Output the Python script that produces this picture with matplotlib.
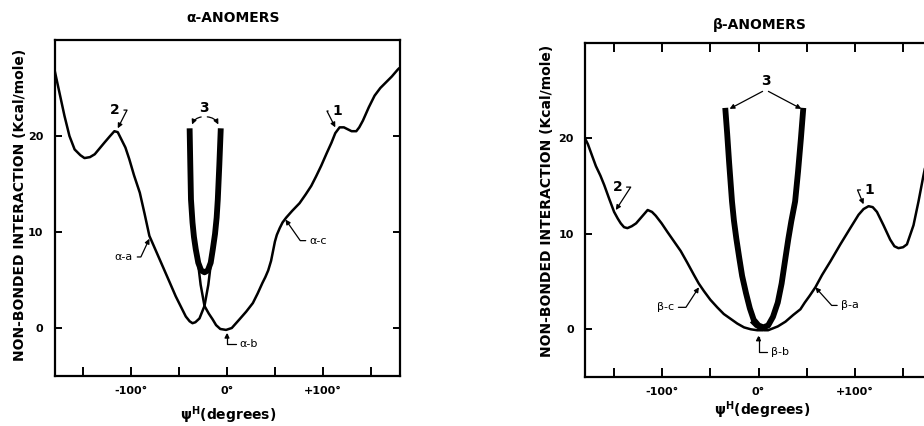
import numpy as np
import matplotlib.pyplot as plt

plt.rcParams['font.family'] = ['DejaVu Sans']
plt.rcParams['font.weight'] = 'bold'

# ---- alpha anomers (left panel) ----
aa_x = [-180, -174.8, -169.6, -164.4, -159, -153, -148.7, -143, -138, -133, -128, -122, -117.5,
        -114, -111, -106, -102, -97, -91, -86, -81, -74, -67, -60, -53.5, -48, -43, -39, -36,
        -33, -28.7, -23.5, -19.5, -16.5]
aa_y = [26.9, 24.5, 22.1, 20.0, 18.6, 18.0, 17.7, 17.8, 18.1, 18.7, 19.3, 20.0, 20.5,
        20.4, 19.8, 18.8, 17.6, 15.9, 14.1, 11.9, 9.6, 8.0, 6.4, 4.8, 3.3, 2.2, 1.2, 0.7, 0.5,
        0.6, 1.0, 2.3, 4.5, 7.0]

ab_x = [-30.5, -27.5, -23.5, -19, -15, -11.4, -7, -1, 5, 13, 20, 27, 32, 37, 40, 43, 46, 48, 50,
        52, 55, 58, 61.8, 68, 75.7, 82, 87.9, 93, 98.3, 104, 109, 113, 117.5, 122, 126, 130,
        134.9, 138, 141.8, 148, 154, 160, 166, 172, 178, 180]
ab_y = [7.0, 4.5, 2.3, 1.5, 0.9, 0.3, -0.1, -0.2, 0.0, 0.9, 1.7, 2.6, 3.6, 4.7, 5.3, 6.0, 7.0, 8.0, 9.0,
        9.7, 10.4, 11.0, 11.5, 12.2, 13.0, 13.9, 14.8, 15.8, 16.9, 18.2, 19.3, 20.3, 20.9, 20.9, 20.7, 20.5,
        20.5, 20.9, 21.6, 23.0, 24.2, 25.0, 25.6, 26.2, 26.9, 27.1]

a3_x = [-39, -38.3, -37.6, -36, -34.5, -32.6, -30, -27, -23.5, -20, -17, -14.8, -12.5, -10.8, -9.6, -8, -6.5]
a3_y = [20.8, 17, 13.4, 11, 9.5, 8.2, 6.8, 6.0, 5.8, 6.0, 6.8, 8.2, 9.8, 11.5, 13.4, 17, 20.8]

# ---- beta anomers (right panel) ----
bc_x = [-180, -177, -172.7, -168.7, -164, -160, -155, -149.8, -146, -142.9, -139.5, -136, -131.5,
        -127, -121, -115, -110.5, -106.6, -100.5, -94.5, -87.6, -80.7, -74, -67, -62, -56.6, -50,
        -42.8, -36, -29, -22, -15, -8, -1.3, 4, 9]
bc_y = [20.0, 19.4, 18.2, 17.1, 16.1, 15.1, 13.7, 12.3, 11.6, 11.1, 10.7, 10.6, 10.8,
        11.1, 11.8, 12.5, 12.3, 11.9, 11.1, 10.2, 9.2, 8.2, 7.0, 5.7, 4.8, 4.0, 3.1,
        2.3, 1.6, 1.1, 0.6, 0.2, 0.0, -0.1, -0.1, 0.1]

ba_x = [-8, -3, 2, 6, 10, 15, 20, 28, 36, 43.5, 48, 53, 59, 66, 74.5, 84.9, 95.2, 103.8, 109,
        114.2, 118.5, 122.9, 129.7, 136.6, 141, 145.2, 150, 154, 160.8, 166, 171.1, 176, 180]
ba_y = [0.8, 0.3, 0.0, -0.1, -0.1, 0.1, 0.3, 0.8, 1.5, 2.1, 2.8, 3.5, 4.4, 5.7, 7.1, 8.9, 10.6, 12.0, 12.6,
        12.9, 12.8, 12.3, 10.9, 9.4, 8.7, 8.5, 8.6, 8.9, 10.9, 13.4, 16.1, 18.5, 20.2]

b3_x = [-34.5, -32.5, -30.5, -27.5, -25.5, -23, -20, -17, -13, -9, -5, 0, 5, 10, 15, 20, 24, 28,
        31, 34, 38, 41, 44, 46.5]
b3_y = [23.2, 20.5, 17.5, 13.4, 11.4, 9.5, 7.5, 5.6, 3.8, 2.2, 1.0, 0.4, 0.2, 0.4, 1.3, 2.8, 4.8, 7.5,
        9.5, 11.3, 13.4, 16.5, 20, 23.2]

xticks = [-150, -100, -50, 0, 50, 100, 150]
xticklabels = ['', '-100°', '', '0°', '', '+100°', '']
yticks = [0, 10, 20]
ylab = 'NON-BONDED INTERACTION (Kcal/mole)'
xlab = 'ψ$^{\\mathbf{H}}$(degrees)'

fig = plt.figure(figsize=(9.24, 4.26), dpi=100)
ax1 = fig.add_axes([54.5/924, 1-376/426, 345/924, 336/426])
ax2 = fig.add_axes([585/924, 1-377/426, 347/924, 334/426])

thin = dict(color='black', lw=1.8, solid_joinstyle='round', solid_capstyle='butt')
thick = dict(color='black', lw=4.2, solid_joinstyle='round', solid_capstyle='butt')

ax1.plot(aa_x, aa_y, **thin)
ax1.plot(ab_x, ab_y, **thin)
ax1.plot(a3_x, a3_y, **thick)
ax2.plot(bc_x, bc_y, **thin)
ax2.plot(ba_x, ba_y, **thin)
ax2.plot(b3_x, b3_y, **thick)

for ax, top in ((ax1, False), (ax2, True)):
    ax.set_xlim(-180, 180)
    ax.set_ylim(-5, 30)
    ax.set_xticks(xticks)
    ax.set_xticklabels(xticklabels, fontsize=8, fontweight='bold')
    ax.set_yticks(yticks)
    ax.set_yticklabels([str(v) for v in yticks], fontsize=8, fontweight='bold')
    ax.tick_params(axis='x', direction='in', length=6.5, width=1.4, top=top, pad=7)
    ax.tick_params(axis='y', direction='in', length=5, width=1.4, right=True, pad=8)
    for s in ax.spines.values():
        s.set_linewidth(1.6)

fig.text(233/924, 1-18/426, 'α-ANOMERS', ha='center', va='center', fontsize=10)
fig.text(760/924, 1-25/426, 'β-ANOMERS', ha='center', va='center', fontsize=10)
fig.text(20/924, 1-205/426, ylab, rotation=90, ha='center', va='center', fontsize=10)
fig.text(547/924, 1-201/426, ylab, rotation=90, ha='center', va='center', fontsize=10)
fig.text(228/924, 1-415/426, xlab, ha='center', va='center', fontsize=10)
fig.text(762/924, 1-410/426, xlab, ha='center', va='center', fontsize=10)

arr = dict(arrowstyle='-|>', color='black', lw=0.9, mutation_scale=7, shrinkA=1, shrinkB=0)

def hook(ax, text, xy, xytext, angleB, size=10, weight='bold'):
    ax.annotate(text, xy=xy, xytext=xytext, fontsize=size, fontweight=weight,
                ha='center', va='center',
                arrowprops=dict(arr, connectionstyle='angle,angleA=0,angleB=%g,rad=0' % angleB))

# left panel labels
hook(ax1, '2', (-114, 20.8), (-117, 22.7), 63)
hook(ax1, '1', (113, 20.9), (115, 22.6), 117)
hook(ax1, 'α-a', (-81, 9.3), (-107.5, 7.4), 65, size=8, weight='normal')
hook(ax1, 'α-c', (61, 11.3), (95.6, 9.1), 125, size=8, weight='normal')
hook(ax1, 'α-b', (0, -0.5), (23, -1.7), 90, size=8, weight='normal')
ax1.text(-23.7, 22.9, '3', ha='center', va='center', fontsize=10)
ax1.annotate('', xy=(-36.5, 21.2), xytext=(-25.5, 22.0),
             arrowprops=dict(arr, connectionstyle='arc3,rad=0.3'))
ax1.annotate('', xy=(-9, 21.2), xytext=(-22, 22.0),
             arrowprops=dict(arr, connectionstyle='arc3,rad=-0.3'))

# right panel labels
hook(ax2, '2', (-148, 12.5), (-146.3, 14.9), 57)
hook(ax2, '1', (109, 13.1), (115.2, 14.6), 113)
hook(ax2, 'β-c', (-61.8, 4.4), (-96.3, 2.3), 57, size=8, weight='normal')
hook(ax2, 'β-a', (59, 4.4), (95.2, 2.5), 132, size=8, weight='normal')
hook(ax2, 'β-b', (0, -0.65), (22.8, -2.4), 90, size=8, weight='normal')
ax2.text(7.2, 26.0, '3', ha='center', va='center', fontsize=10)
ax2.annotate('', xy=(-30, 23.1), xytext=(5.5, 25.0), arrowprops=dict(arr))
ax2.annotate('', xy=(44.5, 23.1), xytext=(9, 25.0), arrowprops=dict(arr))

fig.savefig('out.png', dpi=100)
